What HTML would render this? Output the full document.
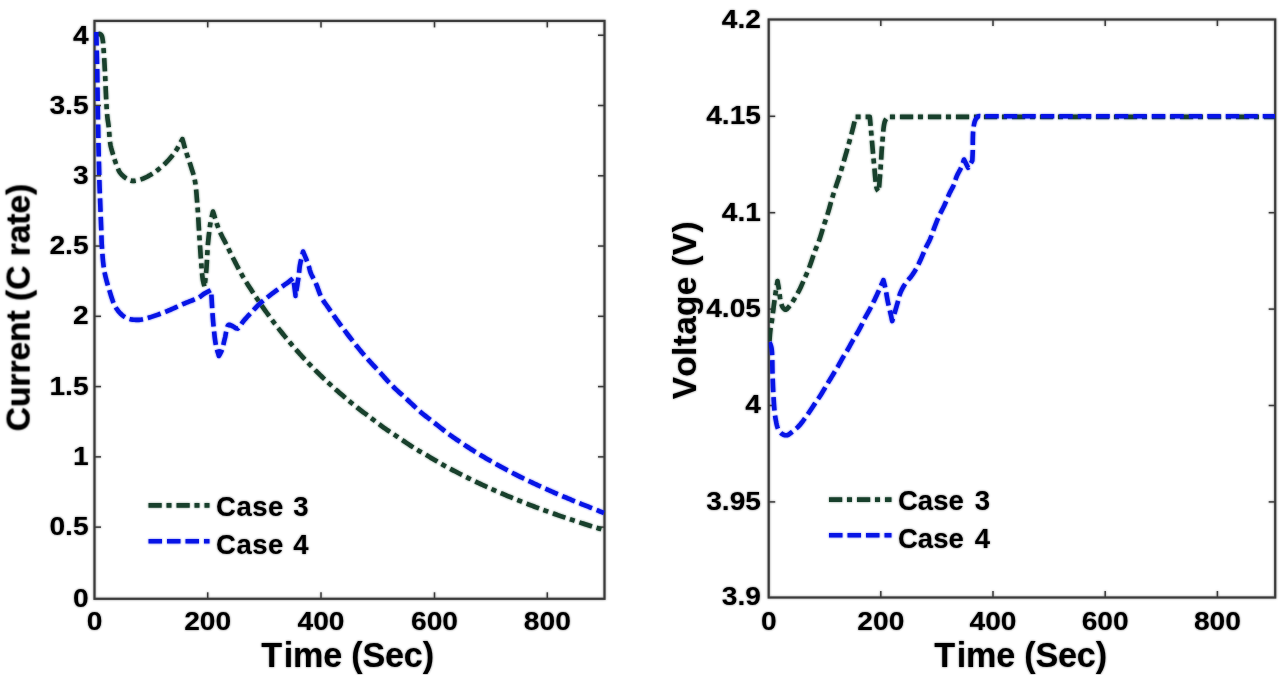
<!DOCTYPE html>
<html><head><meta charset="utf-8"><title>Current and Voltage vs Time</title>
<style>html,body{margin:0;padding:0;background:#fff;width:1280px;height:675px;overflow:hidden}svg{display:block}</style>
</head><body>
<svg width="1280" height="675" viewBox="0 0 1280 675">
<defs>
<filter id="bl" x="0" y="0" width="1280" height="675" filterUnits="userSpaceOnUse"><feGaussianBlur stdDeviation="1"/></filter>
<clipPath id="cl"><rect x="94.5" y="14.899999999999999" width="511.0" height="583.9"/></clipPath>
<clipPath id="cr"><rect x="768.7" y="19.5" width="507.5" height="578.0"/></clipPath>
</defs>
<rect width="1280" height="675" fill="#fff"/>
<use href="#c" filter="url(#bl)" opacity="0.55"/>
<g id="c">
<rect x="94.5" y="20.9" width="510.0" height="577.9" fill="none" stroke="#3c3c3c" stroke-width="2.2"/>
<line x1="207.7" y1="598.8" x2="207.7" y2="592.3" stroke="#3c3c3c" stroke-width="1.5"/>
<line x1="207.7" y1="20.9" x2="207.7" y2="27.4" stroke="#3c3c3c" stroke-width="1.5"/>
<line x1="321.0" y1="598.8" x2="321.0" y2="592.3" stroke="#3c3c3c" stroke-width="1.5"/>
<line x1="321.0" y1="20.9" x2="321.0" y2="27.4" stroke="#3c3c3c" stroke-width="1.5"/>
<line x1="434.5" y1="598.8" x2="434.5" y2="592.3" stroke="#3c3c3c" stroke-width="1.5"/>
<line x1="434.5" y1="20.9" x2="434.5" y2="27.4" stroke="#3c3c3c" stroke-width="1.5"/>
<line x1="547.3" y1="598.8" x2="547.3" y2="592.3" stroke="#3c3c3c" stroke-width="1.5"/>
<line x1="547.3" y1="20.9" x2="547.3" y2="27.4" stroke="#3c3c3c" stroke-width="1.5"/>
<line x1="94.5" y1="527.13" x2="101.0" y2="527.13" stroke="#3c3c3c" stroke-width="1.5"/>
<line x1="604.5" y1="527.13" x2="598.0" y2="527.13" stroke="#3c3c3c" stroke-width="1.5"/>
<line x1="94.5" y1="456.86" x2="101.0" y2="456.86" stroke="#3c3c3c" stroke-width="1.5"/>
<line x1="604.5" y1="456.86" x2="598.0" y2="456.86" stroke="#3c3c3c" stroke-width="1.5"/>
<line x1="94.5" y1="386.59" x2="101.0" y2="386.59" stroke="#3c3c3c" stroke-width="1.5"/>
<line x1="604.5" y1="386.59" x2="598.0" y2="386.59" stroke="#3c3c3c" stroke-width="1.5"/>
<line x1="94.5" y1="316.32" x2="101.0" y2="316.32" stroke="#3c3c3c" stroke-width="1.5"/>
<line x1="604.5" y1="316.32" x2="598.0" y2="316.32" stroke="#3c3c3c" stroke-width="1.5"/>
<line x1="94.5" y1="246.05" x2="101.0" y2="246.05" stroke="#3c3c3c" stroke-width="1.5"/>
<line x1="604.5" y1="246.05" x2="598.0" y2="246.05" stroke="#3c3c3c" stroke-width="1.5"/>
<line x1="94.5" y1="175.77999999999997" x2="101.0" y2="175.77999999999997" stroke="#3c3c3c" stroke-width="1.5"/>
<line x1="604.5" y1="175.77999999999997" x2="598.0" y2="175.77999999999997" stroke="#3c3c3c" stroke-width="1.5"/>
<line x1="94.5" y1="105.50999999999999" x2="101.0" y2="105.50999999999999" stroke="#3c3c3c" stroke-width="1.5"/>
<line x1="604.5" y1="105.50999999999999" x2="598.0" y2="105.50999999999999" stroke="#3c3c3c" stroke-width="1.5"/>
<line x1="94.5" y1="35.24000000000001" x2="101.0" y2="35.24000000000001" stroke="#3c3c3c" stroke-width="1.5"/>
<line x1="604.5" y1="35.24000000000001" x2="598.0" y2="35.24000000000001" stroke="#3c3c3c" stroke-width="1.5"/>
<rect x="768.7" y="19.5" width="506.5" height="578.0" fill="none" stroke="#3c3c3c" stroke-width="2.2"/>
<line x1="880.8" y1="597.5" x2="880.8" y2="591.0" stroke="#3c3c3c" stroke-width="1.5"/>
<line x1="880.8" y1="19.5" x2="880.8" y2="26.0" stroke="#3c3c3c" stroke-width="1.5"/>
<line x1="993.0" y1="597.5" x2="993.0" y2="591.0" stroke="#3c3c3c" stroke-width="1.5"/>
<line x1="993.0" y1="19.5" x2="993.0" y2="26.0" stroke="#3c3c3c" stroke-width="1.5"/>
<line x1="1105.2" y1="597.5" x2="1105.2" y2="591.0" stroke="#3c3c3c" stroke-width="1.5"/>
<line x1="1105.2" y1="19.5" x2="1105.2" y2="26.0" stroke="#3c3c3c" stroke-width="1.5"/>
<line x1="1217.4" y1="597.5" x2="1217.4" y2="591.0" stroke="#3c3c3c" stroke-width="1.5"/>
<line x1="1217.4" y1="19.5" x2="1217.4" y2="26.0" stroke="#3c3c3c" stroke-width="1.5"/>
<line x1="768.7" y1="116.30000000000001" x2="775.2" y2="116.30000000000001" stroke="#3c3c3c" stroke-width="1.5"/>
<line x1="1275.2" y1="116.30000000000001" x2="1268.7" y2="116.30000000000001" stroke="#3c3c3c" stroke-width="1.5"/>
<line x1="768.7" y1="212.70000000000002" x2="775.2" y2="212.70000000000002" stroke="#3c3c3c" stroke-width="1.5"/>
<line x1="1275.2" y1="212.70000000000002" x2="1268.7" y2="212.70000000000002" stroke="#3c3c3c" stroke-width="1.5"/>
<line x1="768.7" y1="309.1" x2="775.2" y2="309.1" stroke="#3c3c3c" stroke-width="1.5"/>
<line x1="1275.2" y1="309.1" x2="1268.7" y2="309.1" stroke="#3c3c3c" stroke-width="1.5"/>
<line x1="768.7" y1="405.5" x2="775.2" y2="405.5" stroke="#3c3c3c" stroke-width="1.5"/>
<line x1="1275.2" y1="405.5" x2="1268.7" y2="405.5" stroke="#3c3c3c" stroke-width="1.5"/>
<line x1="768.7" y1="501.9" x2="775.2" y2="501.9" stroke="#3c3c3c" stroke-width="1.5"/>
<line x1="1275.2" y1="501.9" x2="1268.7" y2="501.9" stroke="#3c3c3c" stroke-width="1.5"/>
<text transform="translate(88.6,43.6) scale(1.06,1)" text-anchor="end" font-size="26.6" font-family="&quot;Liberation Sans&quot;, sans-serif" font-weight="bold" style="font-kerning:none">4</text>
<text transform="translate(88.6,113.5) scale(1.06,1)" text-anchor="end" font-size="26.6" font-family="&quot;Liberation Sans&quot;, sans-serif" font-weight="bold" style="font-kerning:none">3.5</text>
<text transform="translate(88.6,183.8) scale(1.06,1)" text-anchor="end" font-size="26.6" font-family="&quot;Liberation Sans&quot;, sans-serif" font-weight="bold" style="font-kerning:none">3</text>
<text transform="translate(88.6,253.9) scale(1.06,1)" text-anchor="end" font-size="26.6" font-family="&quot;Liberation Sans&quot;, sans-serif" font-weight="bold" style="font-kerning:none">2.5</text>
<text transform="translate(88.6,324.4) scale(1.06,1)" text-anchor="end" font-size="26.6" font-family="&quot;Liberation Sans&quot;, sans-serif" font-weight="bold" style="font-kerning:none">2</text>
<text transform="translate(88.6,394.5) scale(1.06,1)" text-anchor="end" font-size="26.6" font-family="&quot;Liberation Sans&quot;, sans-serif" font-weight="bold" style="font-kerning:none">1.5</text>
<text transform="translate(88.6,464.7) scale(1.06,1)" text-anchor="end" font-size="26.6" font-family="&quot;Liberation Sans&quot;, sans-serif" font-weight="bold" style="font-kerning:none">1</text>
<text transform="translate(88.6,534.7) scale(1.06,1)" text-anchor="end" font-size="26.6" font-family="&quot;Liberation Sans&quot;, sans-serif" font-weight="bold" style="font-kerning:none">0.5</text>
<text transform="translate(88.6,606.9) scale(1.06,1)" text-anchor="end" font-size="26.6" font-family="&quot;Liberation Sans&quot;, sans-serif" font-weight="bold" style="font-kerning:none">0</text>
<text transform="translate(94.6,630.2) scale(1.06,1)" text-anchor="middle" font-size="26.6" font-family="&quot;Liberation Sans&quot;, sans-serif" font-weight="bold" style="font-kerning:none">0</text>
<text transform="translate(207.7,630.2) scale(1.06,1)" text-anchor="middle" font-size="26.6" font-family="&quot;Liberation Sans&quot;, sans-serif" font-weight="bold" style="font-kerning:none">200</text>
<text transform="translate(321.0,630.2) scale(1.06,1)" text-anchor="middle" font-size="26.6" font-family="&quot;Liberation Sans&quot;, sans-serif" font-weight="bold" style="font-kerning:none">400</text>
<text transform="translate(434.5,630.2) scale(1.06,1)" text-anchor="middle" font-size="26.6" font-family="&quot;Liberation Sans&quot;, sans-serif" font-weight="bold" style="font-kerning:none">600</text>
<text transform="translate(547.3,630.2) scale(1.06,1)" text-anchor="middle" font-size="26.6" font-family="&quot;Liberation Sans&quot;, sans-serif" font-weight="bold" style="font-kerning:none">800</text>
<text transform="translate(761.0,27.799999999999997) scale(1.06,1)" text-anchor="end" font-size="26.6" font-family="&quot;Liberation Sans&quot;, sans-serif" font-weight="bold" style="font-kerning:none">4.2</text>
<text transform="translate(761.0,124.20000000000002) scale(1.06,1)" text-anchor="end" font-size="26.6" font-family="&quot;Liberation Sans&quot;, sans-serif" font-weight="bold" style="font-kerning:none">4.15</text>
<text transform="translate(761.0,220.60000000000002) scale(1.06,1)" text-anchor="end" font-size="26.6" font-family="&quot;Liberation Sans&quot;, sans-serif" font-weight="bold" style="font-kerning:none">4.1</text>
<text transform="translate(761.0,317.0) scale(1.06,1)" text-anchor="end" font-size="26.6" font-family="&quot;Liberation Sans&quot;, sans-serif" font-weight="bold" style="font-kerning:none">4.05</text>
<text transform="translate(761.0,413.4) scale(1.06,1)" text-anchor="end" font-size="26.6" font-family="&quot;Liberation Sans&quot;, sans-serif" font-weight="bold" style="font-kerning:none">4</text>
<text transform="translate(761.0,509.79999999999995) scale(1.06,1)" text-anchor="end" font-size="26.6" font-family="&quot;Liberation Sans&quot;, sans-serif" font-weight="bold" style="font-kerning:none">3.95</text>
<text transform="translate(761.0,604.7) scale(1.06,1)" text-anchor="end" font-size="26.6" font-family="&quot;Liberation Sans&quot;, sans-serif" font-weight="bold" style="font-kerning:none">3.9</text>
<text transform="translate(768.8,630.2) scale(1.06,1)" text-anchor="middle" font-size="26.6" font-family="&quot;Liberation Sans&quot;, sans-serif" font-weight="bold" style="font-kerning:none">0</text>
<text transform="translate(880.8,630.2) scale(1.06,1)" text-anchor="middle" font-size="26.6" font-family="&quot;Liberation Sans&quot;, sans-serif" font-weight="bold" style="font-kerning:none">200</text>
<text transform="translate(993.0,630.2) scale(1.06,1)" text-anchor="middle" font-size="26.6" font-family="&quot;Liberation Sans&quot;, sans-serif" font-weight="bold" style="font-kerning:none">400</text>
<text transform="translate(1105.2,630.2) scale(1.06,1)" text-anchor="middle" font-size="26.6" font-family="&quot;Liberation Sans&quot;, sans-serif" font-weight="bold" style="font-kerning:none">600</text>
<text transform="translate(1217.4,630.2) scale(1.06,1)" text-anchor="middle" font-size="26.6" font-family="&quot;Liberation Sans&quot;, sans-serif" font-weight="bold" style="font-kerning:none">800</text>
<text x="261.2" y="667.3" font-size="34.2" font-family="&quot;Liberation Sans&quot;, sans-serif" font-weight="bold" style="font-kerning:none">T<tspan dx="1.7" letter-spacing="-0.22">ime (Sec)</tspan></text>
<text x="934.2" y="667.3" font-size="34.2" font-family="&quot;Liberation Sans&quot;, sans-serif" font-weight="bold" style="font-kerning:none">T<tspan dx="1.7" letter-spacing="-0.22">ime (Sec)</tspan></text>
<text transform="translate(29.6,307.5) rotate(-90)" text-anchor="middle" font-size="33.5" font-family="&quot;Liberation Sans&quot;, sans-serif" font-weight="bold" style="font-kerning:none">Current (C rate)</text>
<text transform="translate(696,310.2) rotate(-90)" text-anchor="middle" font-size="33.5" letter-spacing="0.3" font-family="&quot;Liberation Sans&quot;, sans-serif" font-weight="bold" style="font-kerning:none">Voltage (V)</text>
<g clip-path="url(#cl)"><path d="M97.50,35.00 L98.50,34.24 L99.50,33.80 L100.56,34.27 L101.50,35.30 L102.10,36.71 L102.48,38.52 L102.80,40.50 L102.99,41.84 L103.14,43.27 L103.27,44.76 L103.38,46.32 L103.48,47.94 L103.60,49.60 L103.71,51.03 L103.81,52.53 L103.91,54.09 L104.02,55.68 L104.12,57.29 L104.22,58.92 L104.31,60.53 L104.41,62.13 L104.50,63.70 L104.60,65.38 L104.69,67.04 L104.78,68.70 L104.87,70.35 L104.95,72.00 L105.04,73.66 L105.12,75.32 L105.20,77.00 L105.27,78.54 L105.34,80.08 L105.41,81.64 L105.47,83.19 L105.53,84.75 L105.60,86.31 L105.66,87.88 L105.73,89.44 L105.80,91.00 L105.87,92.58 L105.95,94.18 L106.02,95.79 L106.09,97.39 L106.17,99.00 L106.25,100.58 L106.33,102.15 L106.41,103.69 L106.50,105.20 L106.60,106.89 L106.70,108.54 L106.80,110.17 L106.90,111.77 L107.02,113.35 L107.15,114.93 L107.30,116.50 L107.50,118.20 L107.72,119.84 L107.97,121.46 L108.22,123.11 L108.46,124.84 L108.70,126.70 L108.85,128.14 L108.99,129.67 L109.11,131.28 L109.23,132.94 L109.36,134.64 L109.48,136.35 L109.62,138.05 L109.78,139.72 L109.95,141.36 L110.16,142.92 L110.40,144.40 L110.71,145.99 L111.06,147.52 L111.44,149.01 L111.84,150.46 L112.25,151.88 L112.67,153.27 L113.09,154.64 L113.50,156.00 L113.98,157.58 L114.45,159.12 L114.93,160.63 L115.43,162.10 L115.95,163.56 L116.50,165.00 L117.14,166.66 L117.77,168.30 L118.46,169.91 L119.25,171.45 L120.20,172.90 L121.19,174.10 L122.33,175.28 L123.55,176.40 L124.82,177.43 L126.09,178.34 L127.30,179.10 L129.05,180.00 L130.80,180.61 L132.70,180.90 L134.04,180.89 L135.48,180.73 L136.98,180.45 L138.52,180.06 L140.07,179.61 L141.60,179.10 L143.09,178.55 L144.59,177.92 L146.10,177.22 L147.62,176.46 L149.14,175.63 L150.67,174.74 L152.20,173.80 L153.45,172.99 L154.72,172.13 L156.00,171.23 L157.28,170.28 L158.56,169.30 L159.83,168.28 L161.09,167.24 L162.33,166.18 L163.53,165.10 L164.70,164.00 L165.86,162.86 L167.00,161.69 L168.13,160.49 L169.24,159.26 L170.33,158.01 L171.39,156.75 L172.42,155.47 L173.41,154.18 L174.38,152.89 L175.30,151.60 L176.21,150.25 L177.06,148.88 L177.87,147.49 L178.64,146.10 L179.40,144.70 L180.14,143.30 L180.88,141.89 L181.63,140.49 L182.40,139.10 L182.84,140.65 L183.28,142.19 L183.71,143.72 L184.14,145.26 L184.58,146.81 L185.03,148.37 L185.50,149.97 L186.00,151.60 L186.44,152.99 L186.90,154.42 L187.39,155.88 L187.89,157.36 L188.40,158.85 L188.91,160.35 L189.42,161.85 L189.92,163.33 L190.40,164.78 L190.87,166.21 L191.30,167.60 L191.80,169.19 L192.28,170.69 L192.75,172.14 L193.20,173.58 L193.63,175.05 L194.04,176.58 L194.43,178.22 L194.80,180.00 L195.03,181.30 L195.25,182.66 L195.46,184.09 L195.65,185.57 L195.83,187.09 L196.00,188.65 L196.16,190.25 L196.31,191.88 L196.46,193.52 L196.60,195.18 L196.73,196.85 L196.86,198.53 L196.99,200.19 L197.12,201.85 L197.25,203.49 L197.37,205.11 L197.50,206.70 L197.63,208.27 L197.74,209.84 L197.86,211.41 L197.97,212.98 L198.07,214.55 L198.17,216.12 L198.27,217.69 L198.36,219.27 L198.45,220.84 L198.54,222.41 L198.63,223.98 L198.72,225.55 L198.81,227.12 L198.91,228.69 L199.00,230.26 L199.10,231.83 L199.20,233.40 L199.30,234.97 L199.41,236.56 L199.51,238.15 L199.61,239.75 L199.71,241.35 L199.81,242.96 L199.92,244.56 L200.02,246.16 L200.13,247.75 L200.23,249.34 L200.34,250.92 L200.44,252.48 L200.55,254.02 L200.66,255.55 L200.77,257.06 L200.89,258.54 L201.00,260.00 L201.13,261.63 L201.25,263.28 L201.37,264.92 L201.49,266.56 L201.61,268.19 L201.74,269.79 L201.87,271.36 L202.00,272.89 L202.14,274.37 L202.29,275.79 L202.45,277.14 L202.62,278.41 L202.80,279.60 L203.13,281.32 L203.48,282.82 L203.85,284.22 L204.23,285.58 L204.60,287.00 L204.75,285.51 L204.90,284.04 L205.06,282.58 L205.21,281.13 L205.37,279.68 L205.52,278.22 L205.68,276.75 L205.83,275.26 L205.98,273.75 L206.12,272.21 L206.26,270.62 L206.40,269.00 L206.51,267.56 L206.62,266.08 L206.71,264.56 L206.81,263.02 L206.90,261.44 L206.98,259.84 L207.07,258.23 L207.15,256.60 L207.24,254.97 L207.33,253.34 L207.42,251.71 L207.51,250.09 L207.62,248.48 L207.72,246.89 L207.84,245.33 L207.96,243.80 L208.10,242.30 L208.26,240.68 L208.42,239.05 L208.59,237.41 L208.77,235.78 L208.95,234.15 L209.14,232.54 L209.34,230.95 L209.54,229.39 L209.74,227.86 L209.95,226.38 L210.16,224.94 L210.37,223.56 L210.58,222.25 L210.80,221.00 L211.15,219.21 L211.51,217.58 L211.88,216.06 L212.26,214.59 L212.63,213.12 L213.00,211.60 L213.47,213.04 L213.94,214.49 L214.39,215.95 L214.85,217.42 L215.30,218.89 L215.76,220.35 L216.22,221.81 L216.69,223.26 L217.16,224.70 L217.65,226.11 L218.15,227.50 L218.66,228.87 L219.20,230.20 L219.85,231.72 L220.53,233.19 L221.22,234.63 L221.94,236.05 L222.66,237.45 L223.39,238.83 L224.13,240.21 L224.86,241.59 L225.58,242.99 L226.30,244.40 L227.01,245.82 L227.71,247.24 L228.40,248.65 L229.09,250.06 L229.79,251.48 L230.49,252.90 L231.20,254.33 L231.92,255.77 L232.65,257.23 L233.40,258.70 L234.10,260.07 L234.81,261.46 L235.53,262.87 L236.26,264.29 L236.99,265.73 L237.74,267.16 L238.49,268.60 L239.24,270.03 L240.00,271.44 L240.77,272.84 L241.53,274.22 L242.30,275.57 L243.09,276.92 L243.87,278.25 L244.66,279.55 L245.45,280.84 L246.25,282.12 L247.05,283.39 L247.86,284.66 L248.68,285.93 L249.51,287.21 L250.35,288.51 L251.20,289.83 L252.05,291.14 L252.92,292.47 L253.80,293.81 L254.69,295.16 L255.59,296.52 L256.49,297.88 L257.40,299.23 L258.31,300.58 L259.22,301.92 L260.12,303.25 L261.01,304.55 L261.90,305.84 L262.79,307.11 L263.66,308.37 L264.53,309.60 L265.40,310.83 L266.26,312.04 L267.13,313.25 L268.00,314.46 L268.88,315.67 L269.77,316.88 L270.68,318.11 L271.60,319.35 L272.51,320.58 L273.44,321.81 L274.38,323.05 L275.33,324.30 L276.29,325.55 L277.25,326.81 L278.22,328.06 L279.20,329.31 L280.17,330.56 L281.15,331.79 L282.13,333.02 L283.10,334.24 L284.05,335.42 L285.01,336.60 L285.97,337.77 L286.93,338.94 L287.90,340.11 L288.87,341.27 L289.84,342.42 L290.81,343.57 L291.78,344.71 L292.75,345.85 L293.72,346.98 L294.70,348.10 L295.73,349.29 L296.76,350.46 L297.79,351.62 L298.82,352.77 L299.85,353.92 L300.88,355.06 L301.92,356.20 L302.97,357.35 L304.03,358.50 L305.11,359.65 L306.20,360.81 L307.28,361.95 L308.37,363.10 L309.47,364.25 L310.59,365.41 L311.72,366.57 L312.85,367.72 L313.99,368.88 L315.13,370.03 L316.27,371.18 L317.42,372.32 L318.56,373.45 L319.70,374.57 L320.81,375.65 L321.93,376.73 L323.05,377.80 L324.17,378.87 L325.29,379.93 L326.42,380.99 L327.54,382.04 L328.67,383.09 L329.80,384.13 L330.93,385.16 L332.07,386.19 L333.20,387.22 L334.42,388.32 L335.65,389.41 L336.89,390.51 L338.13,391.60 L339.37,392.68 L340.61,393.75 L341.84,394.82 L343.07,395.87 L344.29,396.91 L345.50,397.94 L346.70,398.95 L348.02,400.05 L349.31,401.13 L350.59,402.19 L351.86,403.24 L353.13,404.28 L354.40,405.31 L355.68,406.34 L356.98,407.37 L358.30,408.41 L359.55,409.38 L360.82,410.35 L362.09,411.32 L363.38,412.29 L364.67,413.26 L365.97,414.22 L367.27,415.19 L368.57,416.15 L369.86,417.12 L371.15,418.09 L372.43,419.06 L373.70,420.03 L374.97,421.00 L376.24,421.97 L377.50,422.95 L378.78,423.92 L380.06,424.89 L381.36,425.85 L382.67,426.81 L384.00,427.77 L385.29,428.67 L386.60,429.58 L387.92,430.47 L389.25,431.37 L390.60,432.26 L391.95,433.15 L393.30,434.04 L394.66,434.93 L396.01,435.82 L397.36,436.71 L398.70,437.61 L400.04,438.51 L401.37,439.41 L402.70,440.32 L404.03,441.23 L405.37,442.14 L406.70,443.04 L408.03,443.94 L409.37,444.84 L410.71,445.72 L412.05,446.59 L413.40,447.45 L414.73,448.27 L416.06,449.08 L417.39,449.88 L418.73,450.67 L420.06,451.45 L421.40,452.22 L422.74,453.00 L424.08,453.77 L425.42,454.54 L426.76,455.32 L428.10,456.10 L429.43,456.89 L430.74,457.67 L432.05,458.46 L433.35,459.24 L434.66,460.02 L435.97,460.80 L437.29,461.59 L438.63,462.38 L439.99,463.17 L441.38,463.96 L442.80,464.76 L444.09,465.48 L445.40,466.20 L446.73,466.92 L448.08,467.66 L449.44,468.39 L450.82,469.13 L452.21,469.86 L453.61,470.60 L455.01,471.33 L456.42,472.06 L457.82,472.79 L459.22,473.51 L460.62,474.22 L462.00,474.93 L463.37,475.62 L464.73,476.31 L466.09,476.99 L467.44,477.66 L468.80,478.33 L470.16,479.00 L471.52,479.67 L472.88,480.33 L474.26,480.99 L475.64,481.66 L477.03,482.32 L478.44,482.99 L479.86,483.66 L481.30,484.33 L482.68,484.97 L484.07,485.61 L485.47,486.25 L486.87,486.90 L488.29,487.54 L489.72,488.19 L491.15,488.83 L492.59,489.48 L494.04,490.12 L495.50,490.77 L496.97,491.41 L498.44,492.06 L499.92,492.70 L501.41,493.34 L502.90,493.98 L504.40,494.61 L505.75,495.19 L507.12,495.76 L508.50,496.33 L509.88,496.91 L511.27,497.48 L512.67,498.06 L514.08,498.63 L515.49,499.21 L516.90,499.78 L518.32,500.35 L519.74,500.92 L521.16,501.48 L522.59,502.05 L524.01,502.61 L525.43,503.17 L526.86,503.72 L528.27,504.27 L529.69,504.82 L531.10,505.36 L532.57,505.93 L534.05,506.49 L535.52,507.04 L537.00,507.59 L538.48,508.14 L539.95,508.69 L541.43,509.23 L542.90,509.78 L544.38,510.31 L545.86,510.85 L547.34,511.38 L548.82,511.91 L550.29,512.44 L551.77,512.97 L553.26,513.49 L554.74,514.01 L556.22,514.53 L557.70,515.05 L559.18,515.57 L560.68,516.08 L562.19,516.60 L563.70,517.12 L565.22,517.63 L566.74,518.15 L568.26,518.66 L569.78,519.16 L571.29,519.67 L572.80,520.17 L574.30,520.67 L575.79,521.16 L577.27,521.64 L578.74,522.12 L580.18,522.59 L581.61,523.06 L583.02,523.51 L584.40,523.96 L586.00,524.48 L587.58,524.98 L589.12,525.47 L590.65,525.95 L592.15,526.42 L593.64,526.89 L595.12,527.35 L596.60,527.80 L598.07,528.26 L599.54,528.72 L601.01,529.17 L602.50,529.64 L604.00,530.11" fill="none" stroke="#18402c" stroke-width="4.6" stroke-dasharray="13.2 4.8 5 5" stroke-linejoin="round"/><path d="M96.30,32.00 L96.34,33.58 L96.37,35.17 L96.41,36.75 L96.45,38.33 L96.49,39.92 L96.53,41.50 L96.56,43.08 L96.60,44.67 L96.64,46.25 L96.67,47.83 L96.71,49.42 L96.75,51.00 L96.79,52.58 L96.83,54.16 L96.87,55.74 L96.91,57.32 L96.95,58.89 L96.98,60.47 L97.02,62.05 L97.06,63.63 L97.10,65.22 L97.13,66.81 L97.17,68.40 L97.20,70.00 L97.23,71.52 L97.26,73.05 L97.28,74.58 L97.30,76.12 L97.33,77.65 L97.35,79.20 L97.37,80.74 L97.39,82.28 L97.41,83.83 L97.43,85.37 L97.46,86.92 L97.48,88.46 L97.50,90.00 L97.52,91.54 L97.55,93.08 L97.57,94.62 L97.59,96.15 L97.61,97.69 L97.63,99.23 L97.65,100.77 L97.68,102.31 L97.70,103.85 L97.72,105.38 L97.75,106.92 L97.77,108.46 L97.80,110.00 L97.83,111.54 L97.86,113.08 L97.89,114.62 L97.92,116.15 L97.95,117.69 L97.98,119.23 L98.01,120.77 L98.04,122.31 L98.07,123.85 L98.11,125.38 L98.14,126.92 L98.17,128.46 L98.20,130.00 L98.23,131.54 L98.26,133.09 L98.29,134.64 L98.32,136.20 L98.35,137.76 L98.38,139.31 L98.41,140.86 L98.44,142.41 L98.47,143.95 L98.50,145.48 L98.53,147.00 L98.57,148.51 L98.60,150.00 L98.64,151.62 L98.68,153.23 L98.72,154.82 L98.76,156.40 L98.80,157.97 L98.84,159.53 L98.88,161.09 L98.93,162.65 L98.97,164.21 L99.01,165.78 L99.05,167.35 L99.09,168.93 L99.13,170.52 L99.17,172.11 L99.21,173.70 L99.24,175.29 L99.28,176.88 L99.32,178.47 L99.36,180.04 L99.41,181.61 L99.45,183.16 L99.50,184.70 L99.55,186.28 L99.61,187.85 L99.67,189.40 L99.73,190.94 L99.79,192.48 L99.85,194.01 L99.91,195.54 L99.98,197.07 L100.04,198.61 L100.10,200.15 L100.16,201.70 L100.22,203.24 L100.28,204.79 L100.34,206.33 L100.40,207.88 L100.46,209.42 L100.52,210.97 L100.58,212.51 L100.64,214.06 L100.70,215.60 L100.76,217.14 L100.82,218.68 L100.88,220.22 L100.94,221.76 L101.00,223.30 L101.06,224.84 L101.12,226.38 L101.18,227.92 L101.24,229.46 L101.30,231.00 L101.35,232.53 L101.40,234.03 L101.44,235.52 L101.49,237.00 L101.53,238.50 L101.58,240.00 L101.64,241.54 L101.71,243.11 L101.79,244.73 L101.90,246.40 L102.00,247.84 L102.10,249.33 L102.20,250.86 L102.31,252.43 L102.42,254.03 L102.55,255.66 L102.68,257.29 L102.82,258.94 L102.97,260.59 L103.14,262.23 L103.32,263.86 L103.51,265.46 L103.72,267.05 L103.95,268.59 L104.20,270.10 L104.48,271.64 L104.77,273.16 L105.09,274.65 L105.42,276.13 L105.76,277.60 L106.12,279.05 L106.49,280.49 L106.88,281.93 L107.28,283.36 L107.69,284.79 L108.12,286.22 L108.55,287.66 L109.00,289.10 L109.46,290.59 L109.92,292.11 L110.38,293.65 L110.86,295.21 L111.34,296.76 L111.84,298.31 L112.36,299.83 L112.90,301.33 L113.47,302.79 L114.07,304.19 L114.71,305.54 L115.38,306.81 L116.10,308.00 L117.11,309.49 L118.17,310.92 L119.28,312.27 L120.45,313.53 L121.67,314.70 L122.93,315.75 L124.24,316.69 L125.60,317.50 L126.94,318.14 L128.36,318.66 L129.82,319.08 L131.33,319.40 L132.85,319.63 L134.38,319.79 L135.90,319.87 L137.40,319.90 L138.87,319.85 L140.33,319.69 L141.78,319.45 L143.24,319.14 L144.71,318.78 L146.20,318.37 L147.73,317.94 L149.30,317.50 L150.71,317.09 L152.16,316.65 L153.63,316.17 L155.12,315.67 L156.63,315.14 L158.16,314.58 L159.70,314.01 L161.25,313.42 L162.80,312.82 L164.35,312.21 L165.90,311.60 L167.33,311.02 L168.78,310.42 L170.25,309.79 L171.73,309.14 L173.21,308.48 L174.70,307.81 L176.19,307.14 L177.67,306.47 L179.14,305.80 L180.59,305.15 L182.02,304.51 L183.43,303.89 L184.80,303.30 L186.34,302.66 L187.91,302.04 L189.48,301.44 L191.03,300.85 L192.56,300.27 L194.04,299.70 L195.45,299.13 L196.77,298.56 L198.00,297.98 L199.10,297.40 L200.55,296.46 L201.73,295.52 L202.85,294.60 L204.10,293.70 L205.39,292.93 L206.76,292.19 L208.17,291.46 L209.60,290.73 L211.00,290.00 L211.12,291.58 L211.24,293.15 L211.37,294.72 L211.48,296.33 L211.60,298.00 L211.69,299.41 L211.77,300.83 L211.84,302.27 L211.92,303.76 L212.00,305.30 L212.09,306.91 L212.20,308.60 L212.29,310.00 L212.39,311.48 L212.50,313.02 L212.61,314.61 L212.72,316.24 L212.84,317.90 L212.97,319.57 L213.10,321.25 L213.24,322.92 L213.39,324.58 L213.54,326.21 L213.70,327.80 L213.87,329.46 L214.05,331.15 L214.22,332.84 L214.41,334.53 L214.60,336.22 L214.80,337.88 L215.01,339.52 L215.23,341.12 L215.47,342.67 L215.73,344.17 L216.00,345.60 L216.36,347.24 L216.76,348.79 L217.17,350.27 L217.61,351.70 L218.04,353.12 L218.48,354.54 L218.90,356.00 L219.67,354.56 L220.44,353.15 L221.20,351.67 L221.90,350.00 L222.33,348.73 L222.72,347.37 L223.09,345.92 L223.45,344.41 L223.79,342.86 L224.15,341.30 L224.51,339.74 L224.90,338.20 L225.26,336.65 L225.59,334.91 L225.91,333.08 L226.24,331.24 L226.59,329.47 L226.98,327.87 L227.44,326.52 L227.97,325.50 L228.60,324.90 L229.95,324.88 L231.48,325.60 L233.00,326.40 L234.51,327.32 L236.02,328.32 L237.50,328.60 L238.49,328.07 L239.46,327.03 L240.41,325.67 L241.38,324.13 L242.37,322.58 L243.40,321.20 L244.39,320.04 L245.41,318.89 L246.45,317.72 L247.51,316.56 L248.58,315.38 L249.68,314.20 L250.80,313.00 L251.87,311.84 L252.95,310.68 L254.03,309.50 L255.13,308.32 L256.27,307.13 L257.45,305.93 L258.69,304.72 L260.00,303.50 L261.04,302.57 L262.15,301.61 L263.29,300.64 L264.48,299.65 L265.70,298.66 L266.94,297.67 L268.19,296.68 L269.45,295.70 L270.70,294.73 L271.94,293.78 L273.16,292.86 L274.35,291.96 L275.50,291.10 L276.90,290.07 L278.31,289.07 L279.72,288.09 L281.11,287.14 L282.47,286.22 L283.80,285.32 L285.07,284.46 L286.27,283.61 L287.40,282.80 L289.03,281.57 L290.49,280.43 L291.88,279.32 L293.30,278.20 L295.60,296.00 L295.84,294.41 L296.09,292.80 L296.35,291.16 L296.60,289.51 L296.86,287.86 L297.12,286.21 L297.37,284.58 L297.62,282.97 L297.86,281.40 L298.09,279.86 L298.31,278.38 L298.51,276.96 L298.70,275.60 L298.92,273.90 L299.09,272.33 L299.24,270.83 L299.39,269.38 L299.55,267.93 L299.75,266.45 L300.00,264.90 L300.27,263.48 L300.57,262.03 L300.90,260.57 L301.26,259.08 L301.63,257.58 L302.00,256.08 L302.38,254.58 L302.75,253.09 L303.10,251.60 L303.70,253.10 L304.33,254.62 L304.96,256.15 L305.60,257.69 L306.22,259.21 L306.83,260.70 L307.40,262.16 L307.92,263.56 L308.40,264.90 L308.93,266.61 L309.34,268.21 L309.72,269.75 L310.15,271.30 L310.70,272.90 L311.27,274.24 L311.92,275.58 L312.63,276.93 L313.37,278.30 L314.12,279.71 L314.87,281.17 L315.60,282.70 L316.20,284.10 L316.79,285.59 L317.38,287.14 L317.96,288.75 L318.55,290.37 L319.15,291.98 L319.76,293.57 L320.39,295.10 L321.03,296.55 L321.70,297.90 L322.49,299.32 L323.30,300.62 L324.13,301.85 L324.98,303.04 L325.85,304.25 L326.76,305.50 L327.70,306.84 L328.54,308.07 L329.41,309.33 L330.30,310.62 L331.22,311.94 L332.15,313.28 L333.11,314.65 L334.08,316.03 L335.07,317.43 L336.08,318.83 L337.10,320.25 L337.95,321.42 L338.81,322.61 L339.69,323.81 L340.58,325.02 L341.48,326.25 L342.39,327.48 L343.31,328.72 L344.25,329.97 L345.19,331.23 L346.14,332.49 L347.10,333.75 L348.06,335.01 L349.03,336.26 L350.00,337.52 L350.92,338.69 L351.85,339.88 L352.79,341.08 L353.74,342.29 L354.71,343.51 L355.67,344.73 L356.65,345.95 L357.63,347.16 L358.61,348.38 L359.59,349.58 L360.57,350.78 L361.55,351.96 L362.52,353.13 L363.49,354.28 L364.45,355.41 L365.40,356.52 L366.44,357.71 L367.48,358.89 L368.51,360.04 L369.54,361.17 L370.57,362.29 L371.59,363.39 L372.62,364.49 L373.64,365.58 L374.66,366.67 L375.68,367.76 L376.70,368.86 L377.72,369.96 L378.75,371.07 L379.77,372.19 L380.79,373.32 L381.81,374.45 L382.82,375.59 L383.83,376.72 L384.84,377.85 L385.86,378.98 L386.88,380.11 L387.90,381.23 L388.94,382.34 L389.98,383.45 L391.03,384.54 L392.10,385.63 L393.19,386.70 L394.29,387.77 L395.40,388.82 L396.52,389.87 L397.64,390.91 L398.78,391.94 L399.92,392.97 L401.06,394.00 L402.20,395.02 L403.34,396.05 L404.48,397.08 L405.62,398.11 L406.75,399.15 L407.88,400.20 L409.01,401.25 L410.13,402.32 L411.26,403.38 L412.39,404.45 L413.52,405.52 L414.65,406.58 L415.78,407.64 L416.91,408.68 L418.03,409.71 L419.16,410.72 L420.28,411.71 L421.40,412.67 L422.62,413.69 L423.84,414.69 L425.05,415.66 L426.27,416.61 L427.48,417.55 L428.69,418.48 L429.90,419.40 L431.11,420.32 L432.32,421.25 L433.54,422.18 L434.75,423.12 L435.97,424.07 L437.18,425.04 L438.40,426.01 L439.63,426.98 L440.85,427.95 L442.07,428.92 L443.28,429.88 L444.50,430.83 L445.70,431.76 L446.91,432.67 L448.10,433.57 L449.43,434.54 L450.72,435.49 L452.00,436.40 L453.28,437.30 L454.56,438.20 L455.86,439.10 L457.19,440.01 L458.57,440.94 L460.00,441.91 L461.15,442.68 L462.32,443.46 L463.52,444.26 L464.74,445.07 L465.97,445.88 L467.23,446.70 L468.50,447.53 L469.79,448.37 L471.10,449.20 L472.41,450.04 L473.74,450.88 L475.09,451.73 L476.44,452.56 L477.80,453.40 L479.07,454.18 L480.37,454.96 L481.69,455.75 L483.02,456.55 L484.37,457.35 L485.74,458.16 L487.11,458.96 L488.49,459.77 L489.88,460.57 L491.27,461.37 L492.66,462.17 L494.05,462.96 L495.44,463.74 L496.82,464.52 L498.19,465.28 L499.55,466.03 L500.90,466.78 L502.33,467.56 L503.75,468.32 L505.15,469.08 L506.55,469.83 L507.94,470.56 L509.33,471.29 L510.72,472.02 L512.12,472.74 L513.52,473.46 L514.93,474.17 L516.35,474.89 L517.78,475.61 L519.23,476.34 L520.70,477.07 L522.20,477.81 L523.53,478.46 L524.87,479.11 L526.23,479.77 L527.60,480.43 L528.99,481.09 L530.39,481.75 L531.79,482.42 L533.20,483.08 L534.62,483.75 L536.05,484.41 L537.48,485.07 L538.91,485.73 L540.35,486.39 L541.78,487.04 L543.21,487.70 L544.64,488.34 L546.07,488.98 L547.49,489.62 L548.90,490.25 L550.31,490.88 L551.73,491.51 L553.18,492.14 L554.63,492.77 L556.10,493.40 L557.57,494.04 L559.04,494.66 L560.51,495.29 L561.97,495.91 L563.43,496.53 L564.87,497.13 L566.29,497.73 L567.70,498.32 L569.08,498.90 L570.43,499.46 L571.75,500.01 L573.04,500.55 L574.29,501.06 L575.50,501.56 L577.10,502.22 L578.63,502.84 L580.09,503.44 L581.51,504.01 L582.90,504.56 L584.26,505.10 L585.61,505.64 L586.97,506.18 L588.34,506.72 L589.75,507.29 L591.17,507.86 L592.60,508.43 L594.02,509.00 L595.45,509.58 L596.88,510.15 L598.30,510.72 L599.72,511.29 L601.15,511.87 L602.57,512.44 L604.00,513.01" fill="none" stroke="#0714e6" stroke-width="4.6" stroke-dasharray="13.5 5" stroke-linejoin="round"/></g>
<g clip-path="url(#cr)"><path d="M769.50,341.00 L769.62,339.34 L769.74,337.69 L769.85,336.05 L769.97,334.39 L770.12,332.71 L770.30,331.00 L770.51,329.38 L770.75,327.76 L771.01,326.11 L771.29,324.44 L771.57,322.76 L771.84,321.04 L772.10,319.30 L772.31,317.77 L772.51,316.21 L772.71,314.62 L772.91,313.01 L773.10,311.39 L773.30,309.77 L773.50,308.16 L773.70,306.57 L773.90,305.00 L774.12,303.34 L774.34,301.68 L774.56,300.03 L774.79,298.39 L775.01,296.77 L775.24,295.16 L775.47,293.57 L775.70,292.00 L775.95,290.38 L776.20,288.79 L776.46,287.22 L776.72,285.66 L776.98,284.12 L777.24,282.56 L777.50,281.00 L777.79,282.67 L778.08,284.33 L778.37,286.00 L778.66,287.66 L778.93,289.33 L779.20,291.00 L779.43,292.69 L779.64,294.42 L779.83,296.15 L780.04,297.84 L780.29,299.47 L780.60,301.00 L781.04,302.80 L781.51,304.53 L782.08,306.10 L782.80,307.40 L784.22,309.05 L785.80,309.80 L787.05,309.08 L788.31,307.56 L789.50,306.00 L790.48,304.77 L791.39,303.51 L792.40,302.00 L793.11,300.89 L793.89,299.65 L794.72,298.29 L795.58,296.85 L796.44,295.37 L797.30,293.86 L798.12,292.36 L798.90,290.90 L799.64,289.43 L800.37,287.94 L801.07,286.44 L801.76,284.92 L802.43,283.40 L803.09,281.89 L803.75,280.39 L804.40,278.90 L805.01,277.51 L805.61,276.15 L806.20,274.80 L806.79,273.46 L807.36,272.10 L807.94,270.72 L808.52,269.29 L809.10,267.80 L809.60,266.47 L810.10,265.08 L810.61,263.64 L811.11,262.18 L811.61,260.69 L812.11,259.19 L812.61,257.70 L813.11,256.23 L813.61,254.77 L814.11,253.36 L814.60,252.00 L815.20,250.43 L815.79,248.91 L816.39,247.43 L816.99,245.98 L817.58,244.53 L818.16,243.06 L818.74,241.56 L819.30,240.00 L819.79,238.58 L820.26,237.12 L820.73,235.62 L821.20,234.10 L821.66,232.57 L822.11,231.05 L822.57,229.53 L823.01,228.05 L823.46,226.60 L823.90,225.20 L824.45,223.54 L824.98,221.94 L825.52,220.38 L826.05,218.84 L826.57,217.29 L827.09,215.72 L827.60,214.10 L828.03,212.69 L828.45,211.24 L828.87,209.76 L829.29,208.27 L829.70,206.78 L830.11,205.31 L830.51,203.86 L830.91,202.45 L831.30,201.10 L831.77,199.51 L832.21,198.03 L832.64,196.60 L833.08,195.15 L833.56,193.60 L834.10,191.90 L834.50,190.67 L834.92,189.38 L835.37,188.03 L835.84,186.64 L836.33,185.21 L836.83,183.74 L837.34,182.24 L837.85,180.71 L838.37,179.17 L838.89,177.61 L839.40,176.04 L839.91,174.47 L840.40,172.90 L840.82,171.52 L841.25,170.11 L841.69,168.68 L842.12,167.22 L842.55,165.74 L842.99,164.25 L843.43,162.75 L843.86,161.24 L844.29,159.73 L844.73,158.22 L845.15,156.71 L845.58,155.22 L845.99,153.73 L846.41,152.26 L846.81,150.82 L847.21,149.39 L847.60,148.00 L848.05,146.40 L848.49,144.81 L848.93,143.22 L849.37,141.63 L849.80,140.06 L850.23,138.51 L850.65,136.97 L851.05,135.46 L851.45,133.98 L851.83,132.53 L852.20,131.11 L852.56,129.73 L852.90,128.40 L853.35,126.60 L853.76,124.90 L854.14,123.26 L854.50,121.67 L854.86,120.10 L855.22,118.52 L855.60,116.90 L857.02,116.90 L858.50,116.90 L860.46,116.90 L862.50,116.90 L864.52,116.90 L866.50,116.90 L868.17,116.90 L869.80,116.90 L869.95,118.49 L870.09,120.04 L870.23,121.59 L870.38,123.19 L870.54,124.87 L870.70,126.70 L870.81,127.98 L870.93,129.33 L871.06,130.75 L871.18,132.21 L871.31,133.71 L871.45,135.25 L871.58,136.82 L871.72,138.39 L871.85,139.98 L871.99,141.56 L872.13,143.13 L872.26,144.68 L872.40,146.20 L872.53,147.70 L872.67,149.20 L872.80,150.69 L872.93,152.18 L873.06,153.66 L873.19,155.15 L873.32,156.65 L873.46,158.14 L873.59,159.65 L873.74,161.17 L873.89,162.70 L874.04,164.24 L874.20,165.80 L874.35,167.33 L874.50,168.96 L874.64,170.67 L874.78,172.43 L874.93,174.22 L875.08,176.01 L875.23,177.80 L875.39,179.55 L875.56,181.23 L875.74,182.84 L875.94,184.35 L876.15,185.73 L876.38,186.96 L876.63,188.03 L876.90,188.90 L877.77,190.45 L878.70,191.60 L878.83,190.03 L878.96,188.47 L879.09,186.92 L879.23,185.38 L879.36,183.84 L879.49,182.29 L879.62,180.74 L879.75,179.18 L879.89,177.61 L880.02,176.02 L880.14,174.40 L880.27,172.77 L880.40,171.10 L880.51,169.62 L880.61,168.11 L880.71,166.57 L880.81,165.02 L880.91,163.45 L881.00,161.86 L881.10,160.26 L881.19,158.65 L881.29,157.04 L881.39,155.43 L881.49,153.82 L881.59,152.22 L881.70,150.62 L881.82,149.04 L881.94,147.47 L882.06,145.92 L882.20,144.40 L882.34,142.77 L882.48,141.09 L882.61,139.37 L882.74,137.63 L882.87,135.88 L883.01,134.14 L883.16,132.42 L883.31,130.74 L883.48,129.11 L883.66,127.55 L883.86,126.07 L884.08,124.70 L884.33,123.43 L884.60,122.29 L884.90,121.30 L885.73,119.53 L886.67,118.21 L887.60,116.90 L889.28,116.90 L891.00,116.90 L892.75,116.90 L895.00,116.90 L895.90,116.90 L896.94,116.90 L898.11,116.90 L899.39,116.90 L900.77,116.90 L902.24,116.90 L903.79,116.90 L905.41,116.90 L907.08,116.90 L908.80,116.90 L910.54,116.90 L912.31,116.90 L914.08,116.90 L915.85,116.90 L917.61,116.90 L919.33,116.90 L921.02,116.90 L922.66,116.90 L924.23,116.90 L925.77,116.90 L927.31,116.90 L928.85,116.90 L930.38,116.90 L931.92,116.90 L933.46,116.90 L935.00,116.90 L936.54,116.90 L938.08,116.90 L939.62,116.90 L941.15,116.90 L942.69,116.90 L944.23,116.90 L945.77,116.90 L947.31,116.90 L948.85,116.90 L950.38,116.90 L951.92,116.90 L953.46,116.90 L955.00,116.90 L956.54,116.90 L958.08,116.90 L959.62,116.90 L961.15,116.90 L962.69,116.90 L964.23,116.90 L965.77,116.90 L967.31,116.90 L968.85,116.90 L970.38,116.90 L971.92,116.90 L973.46,116.90 L975.00,116.90 L976.54,116.90 L978.08,116.90 L979.62,116.90 L981.15,116.90 L982.69,116.90 L984.23,116.90 L985.77,116.90 L987.31,116.90 L988.85,116.90 L990.38,116.90 L991.92,116.90 L993.46,116.90 L995.00,116.90 L996.54,116.90 L998.08,116.90 L999.62,116.90 L1001.15,116.90 L1002.69,116.90 L1004.23,116.90 L1005.77,116.90 L1007.31,116.90 L1008.85,116.90 L1010.38,116.90 L1011.92,116.90 L1013.46,116.90 L1015.00,116.90 L1016.54,116.90 L1018.08,116.90 L1019.62,116.90 L1021.15,116.90 L1022.69,116.90 L1024.23,116.90 L1025.77,116.90 L1027.31,116.90 L1028.85,116.90 L1030.38,116.90 L1031.92,116.90 L1033.46,116.90 L1035.00,116.90 L1036.54,116.90 L1038.08,116.90 L1039.62,116.90 L1041.15,116.90 L1042.69,116.90 L1044.23,116.90 L1045.77,116.90 L1047.31,116.90 L1048.85,116.90 L1050.38,116.90 L1051.92,116.90 L1053.46,116.90 L1055.00,116.90 L1056.54,116.90 L1058.08,116.90 L1059.62,116.90 L1061.15,116.90 L1062.69,116.90 L1064.23,116.90 L1065.77,116.90 L1067.31,116.90 L1068.85,116.90 L1070.38,116.90 L1071.92,116.90 L1073.46,116.90 L1075.00,116.90 L1076.54,116.90 L1078.08,116.90 L1079.62,116.90 L1081.15,116.90 L1082.69,116.90 L1084.23,116.90 L1085.77,116.90 L1087.31,116.90 L1088.85,116.90 L1090.38,116.90 L1091.92,116.90 L1093.46,116.90 L1095.00,116.90 L1096.54,116.90 L1098.08,116.90 L1099.62,116.90 L1101.15,116.90 L1102.69,116.90 L1104.23,116.90 L1105.77,116.90 L1107.31,116.90 L1108.85,116.90 L1110.38,116.90 L1111.92,116.90 L1113.46,116.90 L1115.00,116.90 L1116.54,116.90 L1118.08,116.90 L1119.62,116.90 L1121.15,116.90 L1122.69,116.90 L1124.23,116.90 L1125.77,116.90 L1127.31,116.90 L1128.85,116.90 L1130.38,116.90 L1131.92,116.90 L1133.46,116.90 L1135.00,116.90 L1136.54,116.90 L1138.08,116.90 L1139.62,116.90 L1141.15,116.90 L1142.69,116.90 L1144.23,116.90 L1145.77,116.90 L1147.31,116.90 L1148.85,116.90 L1150.38,116.90 L1151.92,116.90 L1153.46,116.90 L1155.00,116.90 L1156.54,116.90 L1158.08,116.90 L1159.62,116.90 L1161.15,116.90 L1162.69,116.90 L1164.23,116.90 L1165.77,116.90 L1167.31,116.90 L1168.85,116.90 L1170.38,116.90 L1171.92,116.90 L1173.46,116.90 L1175.00,116.90 L1176.54,116.90 L1178.08,116.90 L1179.62,116.90 L1181.15,116.90 L1182.69,116.90 L1184.23,116.90 L1185.77,116.90 L1187.31,116.90 L1188.85,116.90 L1190.38,116.90 L1191.92,116.90 L1193.46,116.90 L1195.00,116.90 L1196.54,116.90 L1198.08,116.90 L1199.62,116.90 L1201.15,116.90 L1202.69,116.90 L1204.23,116.90 L1205.77,116.90 L1207.31,116.90 L1208.85,116.90 L1210.38,116.90 L1211.92,116.90 L1213.46,116.90 L1215.00,116.90 L1216.54,116.90 L1218.08,116.90 L1219.62,116.90 L1221.15,116.90 L1222.69,116.90 L1224.23,116.90 L1225.77,116.90 L1227.31,116.90 L1228.85,116.90 L1230.38,116.90 L1231.92,116.90 L1233.46,116.90 L1235.00,116.90 L1236.54,116.90 L1238.08,116.90 L1239.62,116.90 L1241.15,116.90 L1242.69,116.90 L1244.23,116.90 L1245.77,116.90 L1247.31,116.90 L1248.85,116.90 L1250.38,116.90 L1251.92,116.90 L1253.46,116.90 L1255.00,116.90 L1256.54,116.90 L1258.08,116.90 L1259.62,116.90 L1261.15,116.90 L1262.69,116.90 L1264.23,116.90 L1265.77,116.90 L1267.31,116.90 L1268.85,116.90 L1270.38,116.90 L1271.92,116.90 L1273.46,116.90 L1275.00,116.90" fill="none" stroke="#18402c" stroke-width="4.6" stroke-dasharray="13.2 4.8 5 5" stroke-linejoin="round"/><path d="M769.50,342.00 L770.02,343.40 L770.56,344.73 L771.07,346.19 L771.50,348.00 L771.67,349.08 L771.81,350.28 L771.93,351.60 L772.03,353.01 L772.10,354.50 L772.16,356.07 L772.21,357.69 L772.24,359.36 L772.27,361.07 L772.30,362.79 L772.32,364.52 L772.34,366.24 L772.37,367.94 L772.40,369.61 L772.44,371.23 L772.50,372.80 L772.56,374.40 L772.62,376.00 L772.68,377.60 L772.74,379.19 L772.79,380.79 L772.85,382.38 L772.91,383.97 L772.96,385.56 L773.02,387.14 L773.09,388.72 L773.16,390.29 L773.23,391.85 L773.32,393.41 L773.40,394.96 L773.50,396.50 L773.60,398.07 L773.70,399.65 L773.79,401.24 L773.89,402.83 L773.99,404.42 L774.10,406.00 L774.22,407.57 L774.34,409.12 L774.48,410.65 L774.62,412.15 L774.79,413.63 L774.97,415.06 L775.18,416.45 L775.40,417.80 L775.73,419.64 L776.06,421.46 L776.41,423.26 L776.80,424.99 L777.23,426.62 L777.71,428.14 L778.27,429.51 L778.90,430.70 L779.90,432.05 L781.03,433.16 L782.22,434.04 L783.40,434.70 L785.18,435.31 L787.00,435.30 L788.59,434.61 L790.21,433.43 L791.90,432.10 L792.99,431.27 L794.11,430.39 L795.25,429.45 L796.40,428.44 L797.56,427.36 L798.70,426.20 L799.65,425.15 L800.61,424.01 L801.58,422.80 L802.55,421.54 L803.51,420.25 L804.46,418.94 L805.40,417.63 L806.31,416.35 L807.20,415.10 L808.10,413.82 L808.98,412.54 L809.83,411.26 L810.66,409.99 L811.49,408.72 L812.32,407.44 L813.15,406.17 L814.00,404.90 L814.87,403.62 L815.75,402.33 L816.64,401.04 L817.52,399.75 L818.40,398.47 L819.26,397.20 L820.10,395.94 L820.90,394.70 L821.81,393.25 L822.68,391.82 L823.51,390.41 L824.34,389.01 L825.16,387.61 L826.00,386.20 L826.84,384.80 L827.67,383.41 L828.50,382.03 L829.34,380.62 L830.20,379.19 L831.10,377.70 L831.92,376.35 L832.78,374.94 L833.66,373.51 L834.55,372.05 L835.45,370.58 L836.33,369.12 L837.18,367.69 L838.00,366.30 L838.81,364.89 L839.59,363.49 L840.35,362.10 L841.09,360.74 L841.83,359.39 L842.56,358.08 L843.30,356.80 L844.22,355.28 L845.13,353.82 L846.03,352.40 L846.92,350.97 L847.80,349.50 L848.55,348.19 L849.28,346.86 L850.00,345.51 L850.73,344.16 L851.46,342.82 L852.20,341.50 L853.09,339.98 L854.00,338.49 L854.90,337.01 L855.81,335.52 L856.70,334.00 L857.45,332.69 L858.19,331.37 L858.94,330.04 L859.67,328.71 L860.39,327.36 L861.10,326.00 L861.80,324.61 L862.47,323.20 L863.13,321.78 L863.80,320.36 L864.48,318.93 L865.20,317.50 L865.99,316.01 L866.82,314.53 L867.67,313.04 L868.52,311.55 L869.37,310.04 L870.20,308.50 L870.93,307.10 L871.67,305.66 L872.40,304.21 L873.13,302.76 L873.84,301.31 L874.53,299.89 L875.20,298.50 L875.87,297.09 L876.51,295.71 L877.13,294.36 L877.74,293.00 L878.36,291.62 L879.00,290.20 L879.62,288.82 L880.24,287.41 L880.87,285.98 L881.50,284.54 L882.14,283.09 L882.77,281.64 L883.40,280.20 L883.78,281.66 L884.16,283.09 L884.54,284.53 L884.92,286.05 L885.30,287.70 L885.58,289.06 L885.85,290.53 L886.12,292.07 L886.40,293.66 L886.67,295.29 L886.94,296.92 L887.22,298.53 L887.51,300.10 L887.80,301.60 L888.16,303.29 L888.53,304.97 L888.92,306.62 L889.31,308.25 L889.69,309.84 L890.05,311.39 L890.40,312.90 L890.78,314.62 L891.15,316.27 L891.50,317.88 L891.85,319.48 L892.20,321.10 L892.66,319.56 L893.13,318.01 L893.60,316.46 L894.06,314.91 L894.52,313.38 L894.97,311.87 L895.40,310.40 L895.84,308.88 L896.27,307.39 L896.69,305.93 L897.10,304.48 L897.50,303.04 L897.90,301.60 L898.32,299.97 L898.69,298.35 L899.08,296.75 L899.53,295.14 L900.10,293.50 L900.67,292.13 L901.31,290.73 L902.00,289.31 L902.75,287.90 L903.54,286.50 L904.36,285.13 L905.20,283.80 L906.10,282.52 L907.07,281.27 L908.10,280.04 L909.13,278.84 L910.15,277.65 L911.12,276.47 L912.00,275.30 L912.96,273.93 L913.84,272.59 L914.68,271.27 L915.49,269.92 L916.30,268.50 L917.03,267.17 L917.73,265.81 L918.42,264.42 L919.11,262.99 L919.80,261.52 L920.50,260.00 L921.13,258.60 L921.76,257.12 L922.40,255.60 L923.04,254.05 L923.69,252.50 L924.33,250.97 L924.97,249.50 L925.60,248.10 L926.32,246.62 L927.04,245.23 L927.76,243.89 L928.48,242.54 L929.19,241.13 L929.90,239.60 L930.48,238.22 L931.06,236.75 L931.63,235.22 L932.20,233.64 L932.77,232.04 L933.33,230.44 L933.89,228.87 L934.45,227.35 L935.00,225.90 L935.60,224.36 L936.19,222.87 L936.77,221.41 L937.35,219.98 L937.95,218.56 L938.56,217.13 L939.20,215.70 L939.89,214.24 L940.61,212.80 L941.34,211.37 L942.09,209.93 L942.84,208.48 L943.58,207.00 L944.30,205.50 L944.95,204.05 L945.60,202.55 L946.24,201.02 L946.88,199.48 L947.51,197.95 L948.14,196.45 L948.77,194.99 L949.40,193.60 L950.13,192.10 L950.88,190.67 L951.63,189.28 L952.36,187.91 L953.05,186.53 L953.70,185.10 L954.27,183.63 L954.77,182.14 L955.24,180.63 L955.71,179.12 L956.22,177.60 L956.80,176.10 L957.42,174.73 L958.12,173.35 L958.86,171.97 L959.61,170.59 L960.34,169.23 L961.01,167.90 L961.60,166.60 L962.30,164.77 L962.89,163.00 L963.43,161.26 L964.00,159.50 L968.10,167.80 L972.30,160.70 L972.38,159.17 L972.46,157.62 L972.54,156.08 L972.62,154.54 L972.69,153.01 L972.76,151.50 L972.80,150.00 L972.82,148.40 L972.81,146.83 L972.80,145.28 L972.78,143.72 L972.78,142.14 L972.80,140.50 L972.84,138.86 L972.88,137.16 L972.93,135.42 L972.99,133.67 L973.09,131.95 L973.22,130.28 L973.40,128.70 L973.65,126.89 L973.92,125.11 L974.25,123.40 L974.67,121.82 L975.20,120.40 L976.05,118.72 L977.06,117.26 L978.20,116.30 L979.79,116.12 L981.50,116.30 L983.03,116.30 L985.00,116.30 L985.86,116.30 L986.87,116.30 L988.01,116.30 L989.26,116.30 L990.62,116.30 L992.08,116.30 L993.62,116.30 L995.23,116.30 L996.89,116.30 L998.60,116.30 L1000.35,116.30 L1002.11,116.30 L1003.88,116.30 L1005.65,116.30 L1007.40,116.30 L1009.13,116.30 L1010.81,116.30 L1012.44,116.30 L1014.00,116.30 L1015.53,116.30 L1017.05,116.30 L1018.58,116.30 L1020.11,116.30 L1021.63,116.30 L1023.16,116.30 L1024.68,116.30 L1026.21,116.30 L1027.74,116.30 L1029.26,116.30 L1030.79,116.30 L1032.32,116.30 L1033.84,116.30 L1035.37,116.30 L1036.89,116.30 L1038.42,116.30 L1039.95,116.30 L1041.47,116.30 L1043.00,116.30 L1044.53,116.30 L1046.05,116.30 L1047.58,116.30 L1049.11,116.30 L1050.63,116.30 L1052.16,116.30 L1053.68,116.30 L1055.21,116.30 L1056.74,116.30 L1058.26,116.30 L1059.79,116.30 L1061.32,116.30 L1062.84,116.30 L1064.37,116.30 L1065.89,116.30 L1067.42,116.30 L1068.95,116.30 L1070.47,116.30 L1072.00,116.30 L1073.53,116.30 L1075.05,116.30 L1076.58,116.30 L1078.11,116.30 L1079.63,116.30 L1081.16,116.30 L1082.68,116.30 L1084.21,116.30 L1085.74,116.30 L1087.26,116.30 L1088.79,116.30 L1090.32,116.30 L1091.84,116.30 L1093.37,116.30 L1094.89,116.30 L1096.42,116.30 L1097.95,116.30 L1099.47,116.30 L1101.00,116.30 L1102.53,116.30 L1104.05,116.30 L1105.58,116.30 L1107.11,116.30 L1108.63,116.30 L1110.16,116.30 L1111.68,116.30 L1113.21,116.30 L1114.74,116.30 L1116.26,116.30 L1117.79,116.30 L1119.32,116.30 L1120.84,116.30 L1122.37,116.30 L1123.89,116.30 L1125.42,116.30 L1126.95,116.30 L1128.47,116.30 L1130.00,116.30 L1131.53,116.30 L1133.05,116.30 L1134.58,116.30 L1136.11,116.30 L1137.63,116.30 L1139.16,116.30 L1140.68,116.30 L1142.21,116.30 L1143.74,116.30 L1145.26,116.30 L1146.79,116.30 L1148.32,116.30 L1149.84,116.30 L1151.37,116.30 L1152.89,116.30 L1154.42,116.30 L1155.95,116.30 L1157.47,116.30 L1159.00,116.30 L1160.53,116.30 L1162.05,116.30 L1163.58,116.30 L1165.11,116.30 L1166.63,116.30 L1168.16,116.30 L1169.68,116.30 L1171.21,116.30 L1172.74,116.30 L1174.26,116.30 L1175.79,116.30 L1177.32,116.30 L1178.84,116.30 L1180.37,116.30 L1181.89,116.30 L1183.42,116.30 L1184.95,116.30 L1186.47,116.30 L1188.00,116.30 L1189.53,116.30 L1191.05,116.30 L1192.58,116.30 L1194.11,116.30 L1195.63,116.30 L1197.16,116.30 L1198.68,116.30 L1200.21,116.30 L1201.74,116.30 L1203.26,116.30 L1204.79,116.30 L1206.32,116.30 L1207.84,116.30 L1209.37,116.30 L1210.89,116.30 L1212.42,116.30 L1213.95,116.30 L1215.47,116.30 L1217.00,116.30 L1218.53,116.30 L1220.05,116.30 L1221.58,116.30 L1223.11,116.30 L1224.63,116.30 L1226.16,116.30 L1227.68,116.30 L1229.21,116.30 L1230.74,116.30 L1232.26,116.30 L1233.79,116.30 L1235.32,116.30 L1236.84,116.30 L1238.37,116.30 L1239.89,116.30 L1241.42,116.30 L1242.95,116.30 L1244.47,116.30 L1246.00,116.30 L1247.53,116.30 L1249.05,116.30 L1250.58,116.30 L1252.11,116.30 L1253.63,116.30 L1255.16,116.30 L1256.68,116.30 L1258.21,116.30 L1259.74,116.30 L1261.26,116.30 L1262.79,116.30 L1264.32,116.30 L1265.84,116.30 L1267.37,116.30 L1268.89,116.30 L1270.42,116.30 L1271.95,116.30 L1273.47,116.30 L1275.00,116.30" fill="none" stroke="#0714e6" stroke-width="4.6" stroke-dasharray="13.5 5" stroke-linejoin="round"/></g>
<line x1="148.5" y1="505.4" x2="209.5" y2="505.4" stroke="#18402c" stroke-width="4.6" stroke-dasharray="13.2 4.8 5 5"/><text x="216" y="515.5" font-size="27.5" letter-spacing="0.55" word-spacing="1.2" font-family="&quot;Liberation Sans&quot;, sans-serif" font-weight="bold" style="font-kerning:none">Case 3</text>
<line x1="148.5" y1="541.3" x2="209.5" y2="541.3" stroke="#0714e6" stroke-width="4.6" stroke-dasharray="13.5 5"/><text x="216" y="553.7" font-size="27.5" letter-spacing="0.55" word-spacing="1.2" font-family="&quot;Liberation Sans&quot;, sans-serif" font-weight="bold" style="font-kerning:none">Case 4</text>
<line x1="829" y1="499.6" x2="891.5" y2="499.6" stroke="#18402c" stroke-width="4.6" stroke-dasharray="13.2 4.8 5 5"/><text x="898" y="510" font-size="27.5" letter-spacing="0.0" word-spacing="3.4" font-family="&quot;Liberation Sans&quot;, sans-serif" font-weight="bold" style="font-kerning:none">Case 3</text>
<line x1="829" y1="535.2" x2="891.5" y2="535.2" stroke="#0714e6" stroke-width="4.6" stroke-dasharray="13.5 5"/><text x="898" y="548" font-size="27.5" letter-spacing="0.0" word-spacing="3.4" font-family="&quot;Liberation Sans&quot;, sans-serif" font-weight="bold" style="font-kerning:none">Case 4</text>
</g>
</svg>
</body></html>
